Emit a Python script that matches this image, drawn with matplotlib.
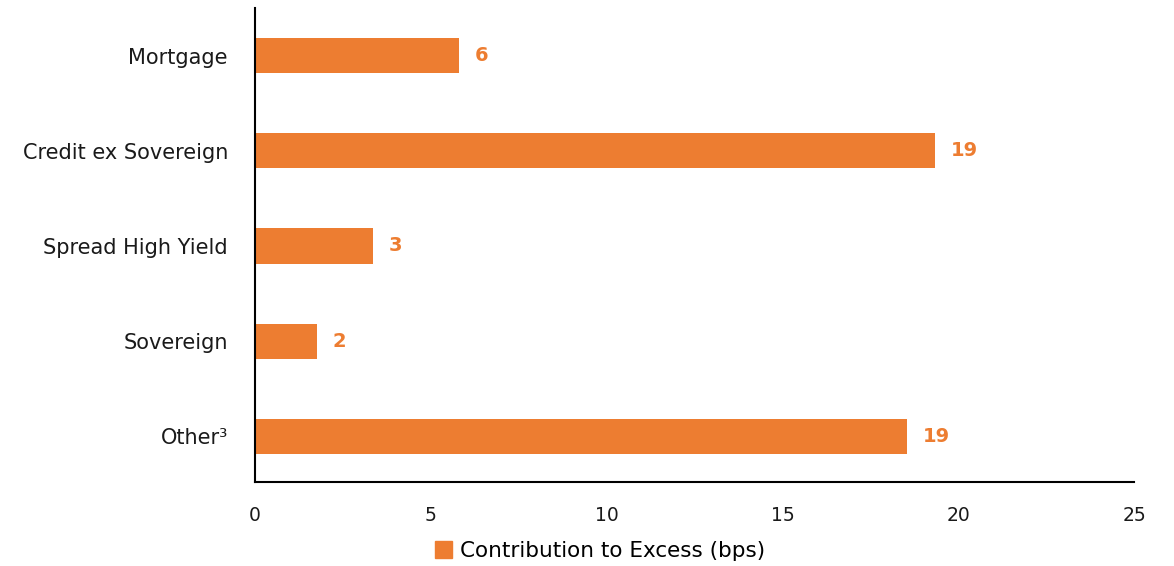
import matplotlib.pyplot as plt
from matplotlib.patches import Patch

categories = ['Mortgage', 'Credit ex Sovereign', 'Spread High Yield', 'Sovereign', 'Other\u00b3']
values = [5.8, 19.35, 3.35, 1.75, 18.55]
labels = ['6', '19', '3', '2', '19']
bar_color = '#ED7D31'


def main():
    fig = plt.figure(figsize=(11.74, 5.66), dpi=100)
    ax = fig.add_axes([255 / 1174, 1 - 482 / 566, (1134 - 255) / 1174, (482 - 8) / 566])

    ypos = list(range(len(categories)))[::-1]
    ax.barh(ypos, values, height=0.37, color=bar_color)
    for y, v, lab in zip(ypos, values, labels):
        ax.text(v + 0.45, y, lab, va='center', ha='left', color=bar_color,
                fontsize=14, fontweight='bold')

    ax.set_xlim(0, 25)
    ax.set_ylim(-0.48, 4.5)
    ax.set_xticks([0, 5, 10, 15, 20, 25])
    ax.set_yticks(ypos)
    ax.set_yticklabels(categories, fontsize=15, color='#1a1a1a')
    ax.tick_params(axis='x', length=0, pad=17, labelsize=13.5, colors='#1a1a1a')
    ax.tick_params(axis='y', length=0, pad=19.5)

    for s in ['top', 'right']:
        ax.spines[s].set_visible(False)
    ax.spines['left'].set_linewidth(1.5)
    ax.spines['bottom'].set_linewidth(1.5)

    fig.legend(handles=[Patch(color=bar_color, label='Contribution to Excess (bps)')],
               loc='center', bbox_to_anchor=(600 / 1174, 1 - 551 / 566), frameon=False,
               fontsize=15.5, handlelength=0.8, handleheight=0.8, handletextpad=0.4)

    fig.savefig('out.png', dpi=100)


if __name__ == "__main__":
    main()
